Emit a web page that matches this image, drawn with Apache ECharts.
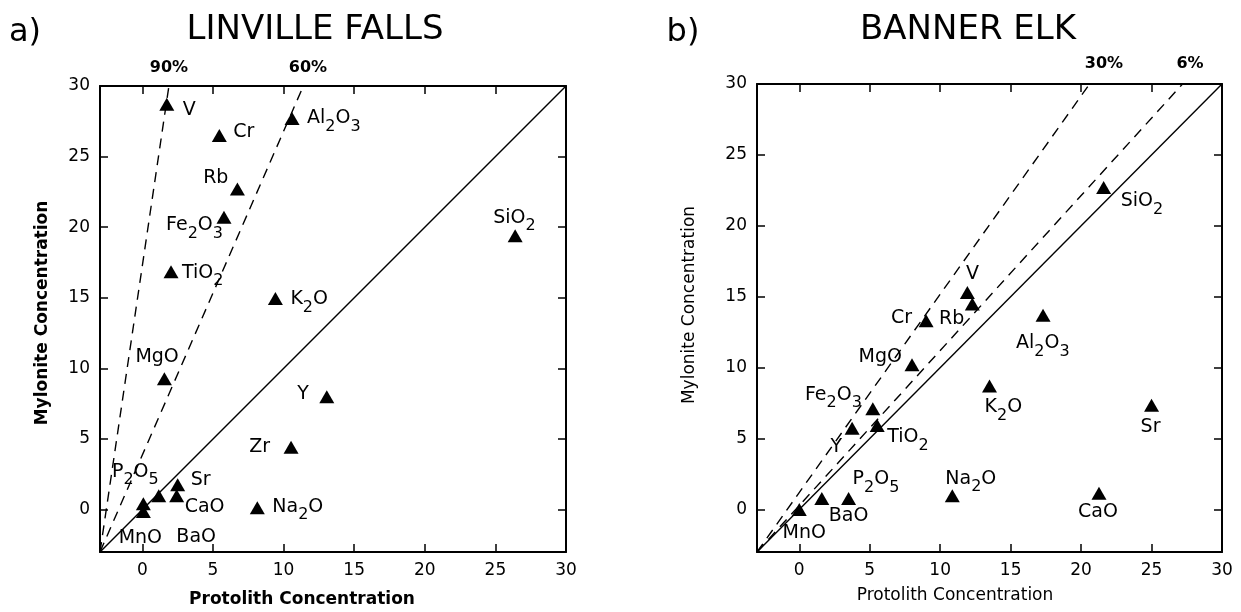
<!DOCTYPE html>
<html><head><meta charset="utf-8">
<script src="https://cdn.jsdelivr.net/npm/echarts@6/dist/echarts.min.js"></script>
<style>html,body{margin:0;background:#fff}#c{width:1241px;height:612px}</style>
</head><body><div id="c"></div>
<script>
// ---------- data ----------
const AXIS_MIN = -3, AXIS_MAX = 30;
const tickLabelValues = [0, 5, 10, 15, 20, 25, 30];
const tickMarkValues = [0, 5, 10, 15, 20, 25];

const linvilleNames = ['V','Cr','Al2O3','Rb','Fe2O3','TiO2','K2O','SiO2','MgO','Y','Zr','Sr','CaO','P2O5','Na2O','MnO','BaO'];
const linvilleProtolith = [1.73, 5.45, 10.6, 6.73, 5.78, 2.03, 9.42, 26.4, 1.56, 13.06, 10.53, 2.5, 2.43, 1.16, 8.14, 0.07, 0.07];
const linvilleMylonite  = [28.7, 26.5, 27.7, 22.7, 20.7, 16.84, 14.95, 19.4, 9.27, 8.0, 4.42, 1.77, 0.99, 0.99, 0.14, -0.14, 0.42];
const linvilleIsoconLabels = ['90%', '60%'];
const linvilleIsoconTopX = [1.88, 11.4];

const bannerNames = ['MnO','BaO','P2O5','Y','Fe2O3','TiO2','MgO','Cr','Rb','V','Al2O3','SiO2','K2O','Sr','Na2O','CaO'];
const bannerProtolith = [0, 1.6, 3.5, 3.75, 5.22, 5.53, 8.0, 9.0, 12.28, 11.93, 17.3, 21.6, 13.5, 25.0, 10.86, 21.27];
const bannerMylonite  = [0, 0.77, 0.77, 5.73, 7.1, 5.92, 10.2, 13.3, 14.48, 15.3, 13.7, 22.7, 8.7, 7.34, 0.96, 1.15];
const bannerIsoconLabels = ['30%', '6%'];
const bannerIsoconTopX = [20.6, 27.2];

// ---------- label layout (offset from marker, alignment) ----------
const linvilleLabelLayout = {
  V:[16,6,'left'], Cr:[14,-3,'left'], Al2O3:[15,0,'left'], Rb:[-9,-11,'right'],
  Fe2O3:[-1,8,'right'], TiO2:[11,1,'left'], K2O:[15,1,'left'], SiO2:[-22,-18,'left'],
  MgO:[-29,-22,'left'], Y:[-18,-3,'right'], Zr:[-21,0,'right'], Sr:[13,-5,'left'],
  CaO:[8,11,'left'], P2O5:[0,-24,'right'], Na2O:[15,-1,'left'], MnO:[-3,26,'center'], BaO:[33,33,'left']
};
const bannerLabelLayout = {
  MnO:[5,24,'center'], BaO:[7,18,'left'], P2O5:[4,-19,'left'], Y:[-10,19,'right'],
  Fe2O3:[-11,-14,'right'], TiO2:[10,12,'left'], MgO:[-10,-8,'right'], Cr:[-14,-3,'right'],
  Rb:[-8,15,'right'], V:[5,-18,'center'], Al2O3:[-27,28,'left'], SiO2:[17,14,'left'],
  K2O:[-5,21,'left'], Sr:[-1,22,'center'], Na2O:[-7,-17,'left'], CaO:[-1,19,'center']
};

const FONT = 'DejaVu Sans';

function richName(n) {
  return n.replace(/([A-Za-z]+)|(\d+)/g, (m, a, d) => a ? '{n|' + a + '}' : '{s|' + d + '}');
}
const rich = {
  n: { fontSize: 19, fontFamily: FONT, color: '#000' },
  s: { fontSize: 16, fontFamily: FONT, color: '#000', padding: [17, 0, 0, 0] }
};

function scatterData(names, xs, ys, layout) {
  return names.map((nm, i) => {
    const l = layout[nm];
    return {
      name: nm, value: [xs[i], ys[i]],
      label: { show: true, position: 'inside', offset: [l[0], l[1]], align: l[2], verticalAlign: 'middle',
               opacity: 1, color: '#000', formatter: richName(nm), rich: rich }
    };
  });
}

function axisBase(gi) {
  return {
    type: 'value', gridIndex: gi, min: AXIS_MIN, max: AXIS_MAX,
    axisLine: { show: true, onZero: false, lineStyle: { color: '#000', width: 2 } },
    axisTick: { show: true, inside: true, length: 8, customValues: tickMarkValues, lineStyle: { color: '#000', width: 1.5 } },
    splitLine: { show: false }
  };
}
const tickLabelStyle = { show: true, customValues: tickLabelValues, margin: 10, fontSize: 17, color: '#000', fontFamily: FONT };
function xAxisPair(gi) {
  return [
    Object.assign(axisBase(gi), { position: 'bottom', axisLabel: tickLabelStyle }),
    Object.assign(axisBase(gi), { position: 'top', axisLabel: { show: false } })
  ];
}
function yAxisPair(gi) {
  return [
    Object.assign(axisBase(gi), { position: 'left', axisLabel: tickLabelStyle }),
    Object.assign(axisBase(gi), { position: 'right', axisLabel: { show: false } })
  ];
}

function lineSeries(xi, yi, pts, dashed) {
  return {
    type: 'line', xAxisIndex: xi, yAxisIndex: yi, data: pts, symbol: 'none', silent: true,
    lineStyle: { color: '#000', width: 1.4, opacity: 1, type: dashed ? [10, 7] : 'solid' }, z: 1
  };
}
function scatterSeries(xi, yi, data) {
  return {
    type: 'scatter', xAxisIndex: xi, yAxisIndex: yi, symbol: 'triangle', symbolSize: [15, 13],
    itemStyle: { color: '#000', opacity: 1 }, z: 3, silent: true, data: data
  };
}

const series = [];
// Linville Falls
series.push(lineSeries(0, 0, [[AXIS_MIN, AXIS_MIN], [AXIS_MAX, AXIS_MAX]], false));
linvilleIsoconTopX.forEach(t => series.push(lineSeries(0, 0, [[AXIS_MIN, AXIS_MIN], [t, AXIS_MAX]], true)));
series.push(scatterSeries(0, 0, scatterData(linvilleNames, linvilleProtolith, linvilleMylonite, linvilleLabelLayout)));
// Banner Elk
series.push(lineSeries(2, 2, [[AXIS_MIN, AXIS_MIN], [AXIS_MAX, AXIS_MAX]], false));
bannerIsoconTopX.forEach(t => series.push(lineSeries(2, 2, [[AXIS_MIN, AXIS_MIN], [t, AXIS_MAX]], true)));
series.push(scatterSeries(2, 2, scatterData(bannerNames, bannerProtolith, bannerMylonite, bannerLabelLayout)));

function txt(text, x, y, size, weight, rot) {
  return { type: 'text', x: x, y: y, rotation: rot || 0, silent: true,
    style: { text: text, fill: '#000', font: (weight || 'normal') + ' ' + size + 'px "' + FONT + '"',
             textAlign: 'center', textVerticalAlign: 'middle' } };
}

const chart = echarts.init(document.getElementById('c'), null, { renderer: 'canvas' });
chart.setOption({
  animation: false,
  backgroundColor: '#fff',
  grid: [
    { left: 100, top: 86, width: 466, height: 466 },
    { left: 757, top: 84, width: 465, height: 468 }
  ],
  xAxis: xAxisPair(0).concat(xAxisPair(1)),
  yAxis: yAxisPair(0).concat(yAxisPair(1)),
  series: series,
  graphic: [
    txt('a)', 25, 33, 32),
    txt('LINVILLE FALLS', 315, 30, 34),
    txt('b)', 683, 33, 32),
    txt('BANNER ELK', 968, 30, 34),
    txt(linvilleIsoconLabels[0], 169, 68, 16, 'bold'),
    txt(linvilleIsoconLabels[1], 308, 68, 16, 'bold'),
    txt(bannerIsoconLabels[0], 1104, 64, 16, 'bold'),
    txt(bannerIsoconLabels[1], 1190, 64, 16, 'bold'),
    txt('Protolith Concentration', 302, 600, 17, 'bold'),
    txt('Mylonite Concentration', 43, 313, 17, 'bold', Math.PI / 2),
    txt('Protolith Concentration', 955, 596, 17),
    txt('Mylonite Concentration', 690, 305, 17, 'normal', Math.PI / 2)
  ]
});
</script></body></html>
